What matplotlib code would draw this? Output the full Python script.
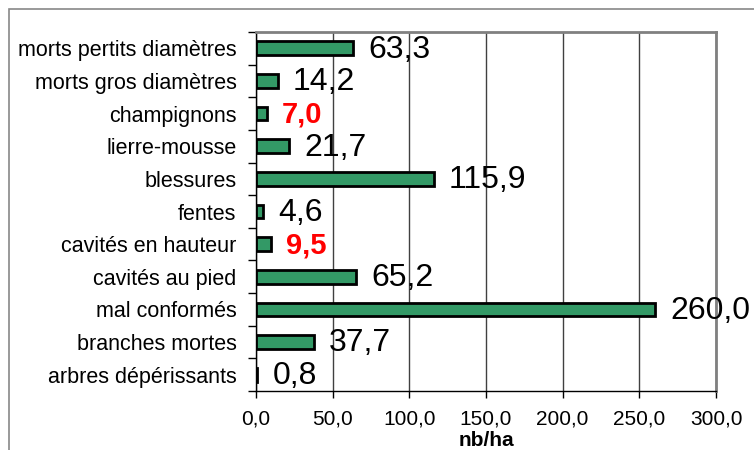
import matplotlib
matplotlib.use("Agg")
import matplotlib.pyplot as plt
from matplotlib.patches import Rectangle

# données (de haut en bas)
categories = ["morts pertits diamètres", "morts gros diamètres", "champignons",
              "lierre-mousse", "blessures", "fentes", "cavités en hauteur",
              "cavités au pied", "mal conformés", "branches mortes",
              "arbres dépérissants"]
values = [63.3, 14.2, 7.0, 21.7, 115.9, 4.6, 9.5, 65.2, 260.0, 37.7, 0.8]
highlight = ["champignons", "cavités en hauteur"]
xticks = [0, 50, 100, 150, 200, 250, 300]

plt.rcParams['font.family'] = ['Liberation Sans', 'DejaVu Sans']

fig = plt.figure(figsize=(7.54, 4.5), dpi=100)
# cadre extérieur (gauche + haut)
fig.patches.append(Rectangle((9/754, -0.1), 1.2, 1 - 9/450 + 0.1,
                             transform=fig.transFigure, fill=False,
                             edgecolor='#888888', lw=1.2))
ax = fig.add_axes([256/754, 1 - 391/450, (716-256)/754, (391-32)/450])

n = len(categories)
pos = list(range(n))[::-1]
ax.barh(pos, values, height=0.42, color='#339966', edgecolor='black', lw=2, zorder=3)

for p, v, c in zip(pos, values, categories):
    txt = ("%.1f" % v).replace('.', ',')
    if c in highlight:
        ax.annotate(txt, (v, p), xytext=(11, -1), textcoords='offset points',
                    va='center', ha='left', fontsize=21, color='red',
                    fontweight='bold', zorder=4)
    else:
        ax.annotate(txt, (v, p), xytext=(11, -1), textcoords='offset points',
                    va='center', ha='left', fontsize=23, color='black', zorder=4)

ax.set_xlim(0, 300)
ax.set_ylim(-0.5, n - 0.5)
ax.set_xticks(xticks)
ax.set_xticklabels([("%.1f" % t).replace('.', ',') for t in xticks], fontsize=15)
ax.set_yticks(pos)
ax.set_yticklabels(categories, fontsize=15.5)
ax.set_yticks([i - 0.5 for i in range(n + 1)], minor=True)
ax.tick_params(axis='y', which='major', length=0, pad=14)
ax.tick_params(axis='y', which='minor', length=6, width=1, direction='out')
ax.tick_params(axis='x', length=5, width=1, direction='out', pad=8)
ax.xaxis.grid(True, color='#404040', lw=1, zorder=0)
ax.set_xlabel("nb/ha", fontsize=15, fontweight='bold', labelpad=2)

for s in ['top', 'right']:
    ax.spines[s].set_color('#808080')
    ax.spines[s].set_linewidth(2)
for s in ['left', 'bottom']:
    ax.spines[s].set_color('black')
    ax.spines[s].set_linewidth(1)

fig.savefig("out.png", dpi=100)
